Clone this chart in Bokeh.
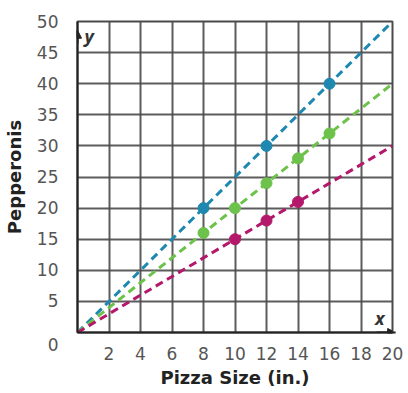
from bokeh.plotting import figure
from bokeh.models import Range1d, FixedTicker, Label, Arrow, NormalHead
from bokeh.embed import file_html
from bokeh.resources import INLINE

# data
x_ticks = [2, 4, 6, 8, 10, 12, 14, 16, 18, 20]
y_ticks = [0, 5, 10, 15, 20, 25, 30, 35, 40, 45, 50]
line_x = [0, 20]
blue_line = [0, 50]
green_line = [0, 40]
magenta_line = [0, 30]
blue_x = [8, 12, 16]
blue_y = [20, 30, 40]
green_x = [8, 10, 12, 14, 16]
green_y = [16, 20, 24, 28, 32]
magenta_x = [10, 12, 14]
magenta_y = [15, 18, 21]

BLUE = "#1e88b0"
GREEN = "#6cc24a"
MAGENTA = "#b3186a"
GRID = "#4a4a4a"
FONT = "DejaVu Sans"

p = figure(frame_width=315, frame_height=311, x_range=Range1d(0, 20), y_range=Range1d(0, 50),
           output_backend="svg", toolbar_location=None,
           min_border_left=69, min_border_right=16, min_border_top=21, min_border_bottom=53)
p.background_fill_color = "white"
p.border_fill_color = "white"
p.outline_line_color = GRID
p.outline_line_width = 2

for ax, ticks in ((p.xaxis[0], x_ticks), (p.yaxis[0], y_ticks)):
    ax.ticker = FixedTicker(ticks=ticks)
    ax.major_tick_line_color = None
    ax.minor_tick_line_color = None
    ax.axis_line_color = "#222222"
    ax.axis_line_width = 2
    ax.major_label_text_font = FONT
    ax.major_label_text_font_size = "17px"
    ax.major_label_text_color = "#555555"
    ax.axis_label_text_font = FONT
    ax.axis_label_text_font_size = "18px"
    ax.axis_label_text_font_style = "bold"
    ax.axis_label_text_color = "#222222"

p.yaxis.major_label_overrides = {0: "\n0"}
p.xaxis.axis_label = "Pizza Size (in.)"
p.yaxis.axis_label = "Pepperonis"
p.xaxis.major_label_standoff = 8
p.xaxis.axis_label_standoff = 4
p.yaxis.major_label_standoff = 13
p.yaxis.axis_label_standoff = 9

p.xgrid.ticker = FixedTicker(ticks=x_ticks)
p.ygrid.ticker = FixedTicker(ticks=y_ticks[1:])
p.grid.grid_line_color = GRID
p.grid.grid_line_width = 2
p.grid.grid_line_alpha = 0.9

for ly, c in ((blue_line, BLUE), (green_line, GREEN), (magenta_line, MAGENTA)):
    p.line(line_x, ly, line_color=c, line_width=3, line_dash="8 5")

p.scatter(blue_x, blue_y, size=11, color=BLUE)
p.scatter(green_x, green_y, size=11, color=GREEN)
p.scatter(magenta_x, magenta_y, size=11, color=MAGENTA)

# axis arrows
p.add_layout(Arrow(end=NormalHead(size=8, fill_color="#222222", line_color="#222222"),
                   x_start=0, y_start=46.5, x_end=0, y_end=48.6,
                   line_color="#222222", line_width=2))
p.add_layout(Arrow(end=NormalHead(size=8, fill_color="#222222", line_color="#222222"),
                   x_start=19, y_start=0, x_end=20.2, y_end=0,
                   line_color="#222222", line_width=2))

p.add_layout(Label(x=0.45, y=47.6, text="y", text_font="Open Sans", text_font_size="18px",
                   text_font_style="bold italic", text_color="#333333",
                   text_align="left", text_baseline="middle"))
p.add_layout(Label(x=19.2, y=2.3, text="x", text_font="Open Sans", text_font_size="18px",
                   text_font_style="bold italic", text_color="#333333",
                   text_align="center", text_baseline="middle"))

open("out.html", "w").write(file_html(p, INLINE))
